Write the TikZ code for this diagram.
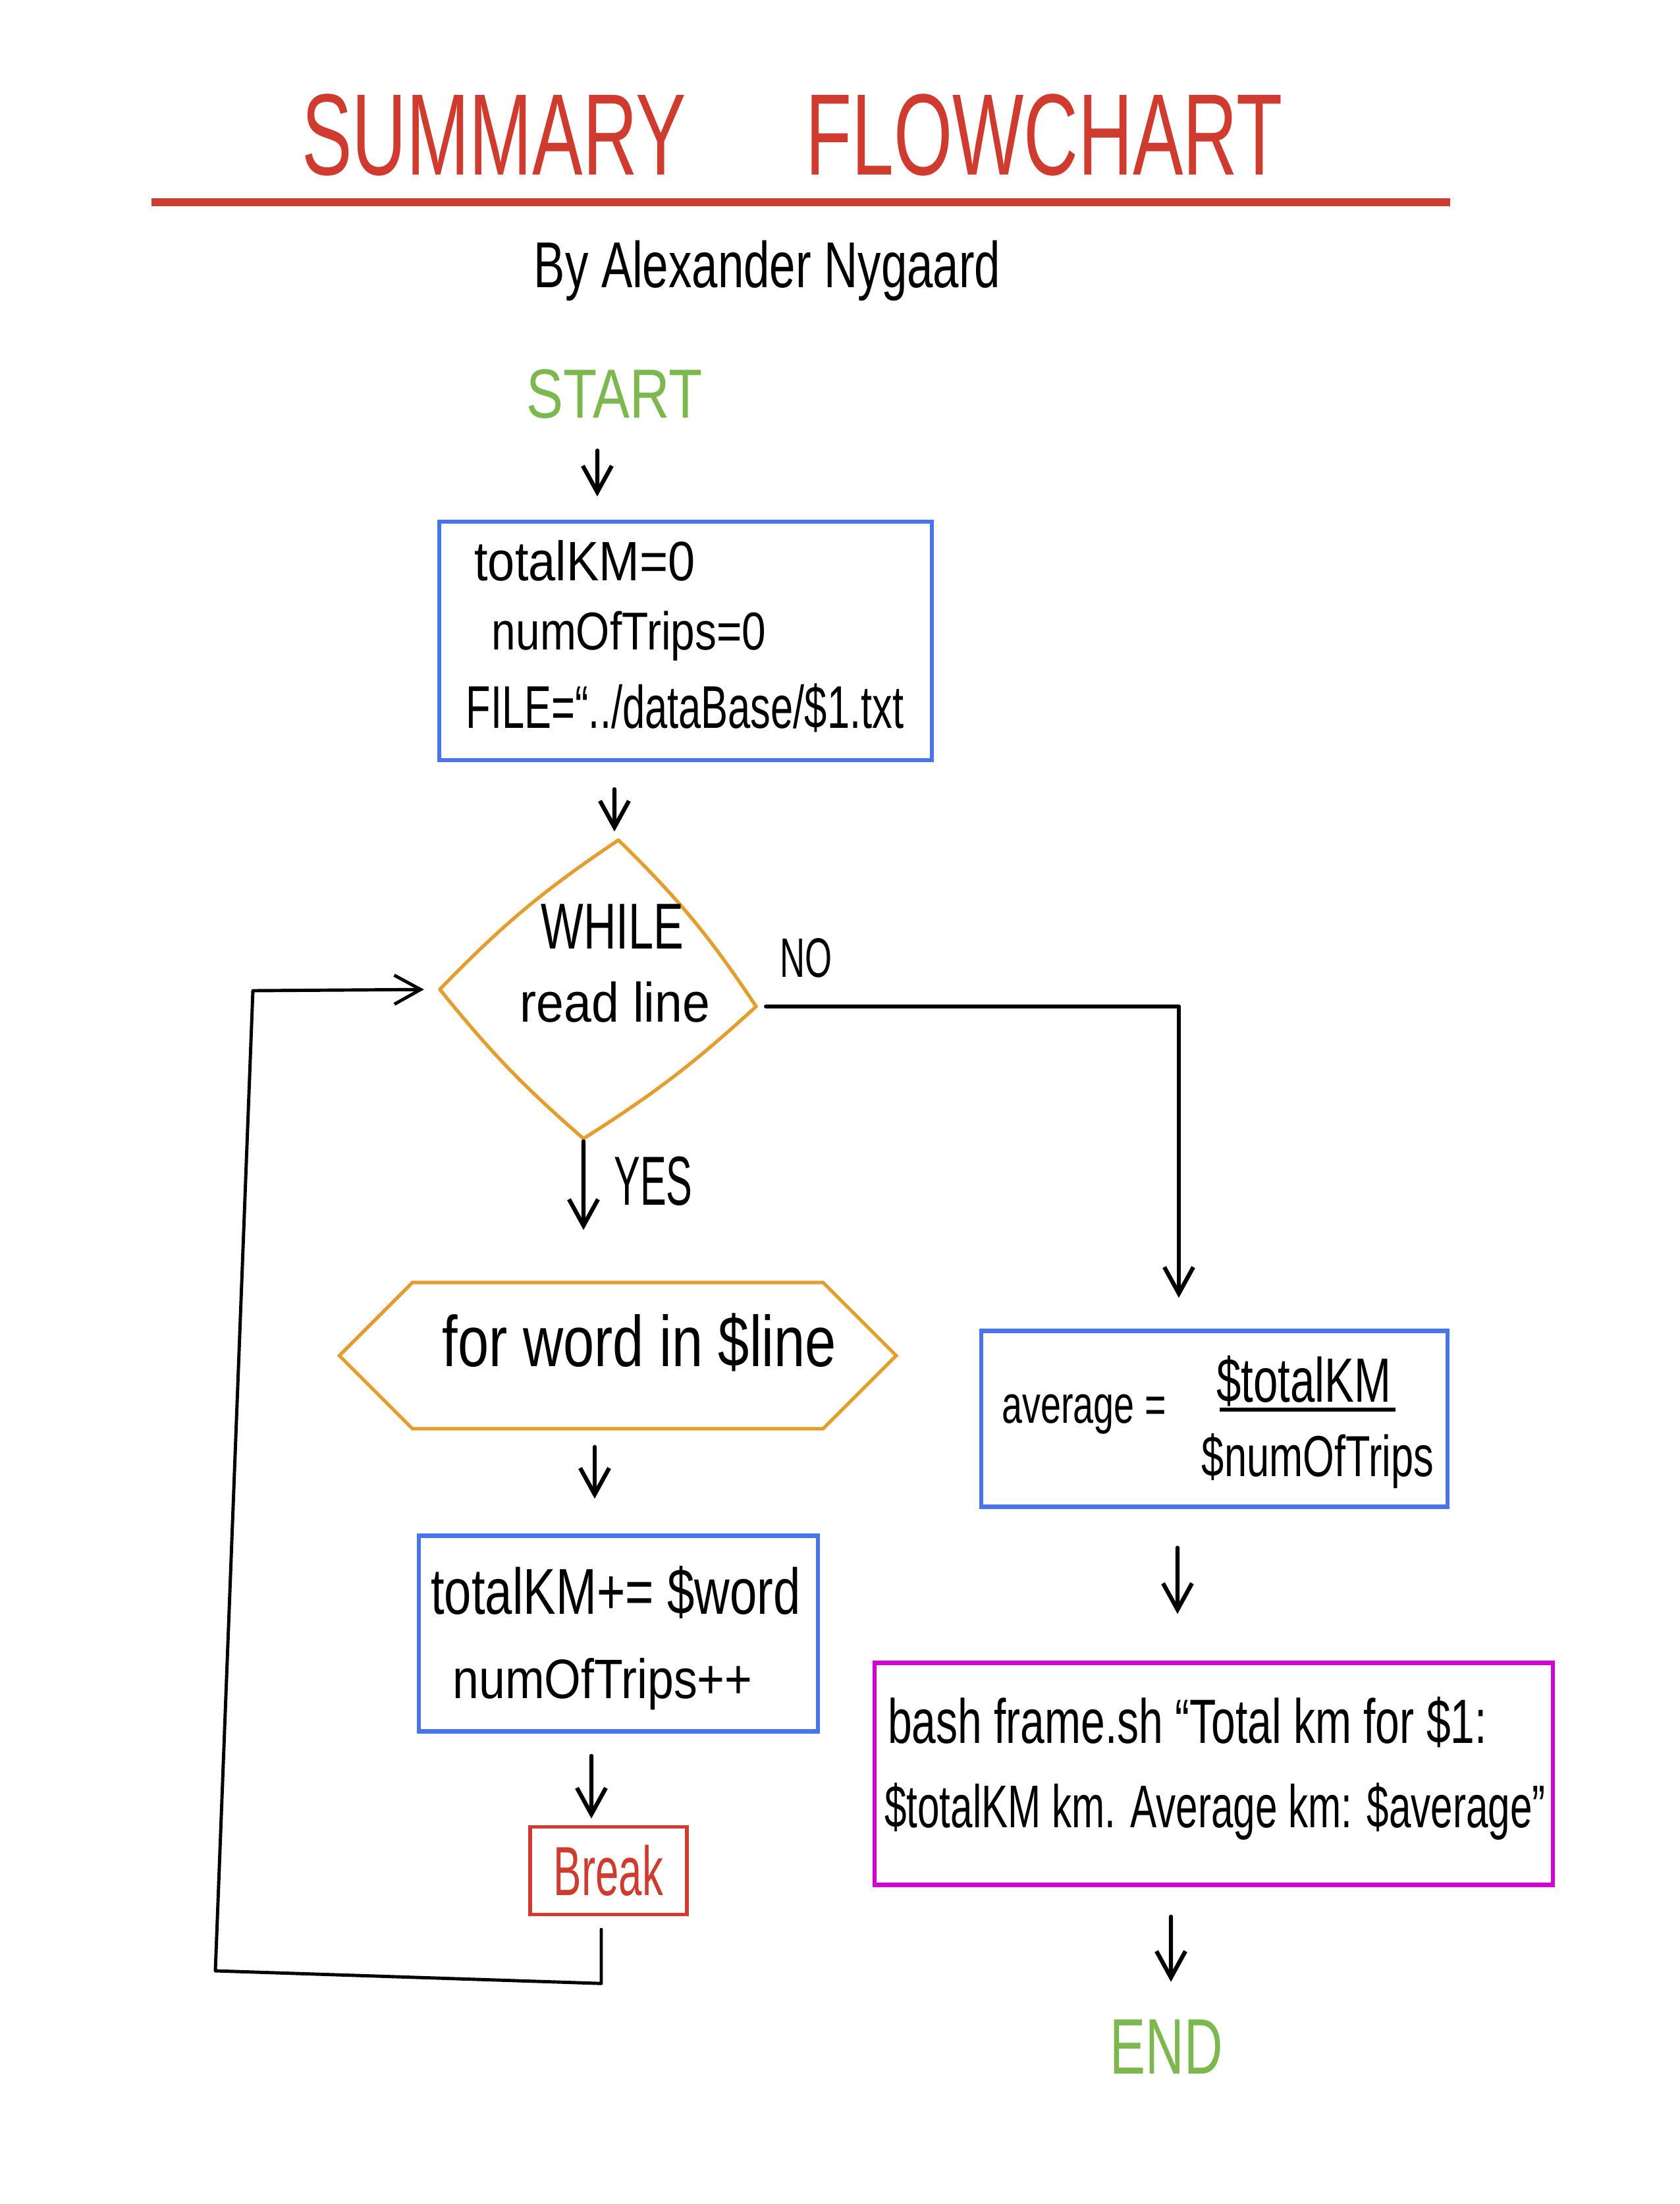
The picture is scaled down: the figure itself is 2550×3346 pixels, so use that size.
\documentclass[tikz,border=0pt]{standalone}
\usepackage{fontspec}
\setmainfont{Liberation Sans}
\usetikzlibrary{arrows.meta,shapes.geometric,shapes.symbols}
\definecolor{tred}{RGB}{207,59,46}
\definecolor{tgreen}{RGB}{124,184,78}
\definecolor{tblue}{RGB}{74,116,238}
\definecolor{torange}{RGB}{227,158,47}
\definecolor{tmag}{RGB}{213,0,213}
\newcommand{\hw}[2]{\resizebox{#1}{\height}{#2}}
\newcommand{\fs}[1]{\fontsize{#1}{#1}\selectfont}
\begin{document}
\begin{tikzpicture}[x=0.01cm,y=-0.01cm,
  txt/.style={inner sep=0pt,outer sep=0pt,anchor=base},
  bluebox/.style={draw=tblue,line width=1.8pt,rectangle,inner sep=0pt},
  harr/.style={line width=1.8pt,-{Straight Barb[length=0.4cm,width=0.44cm]},line cap=round,line join=round}]
\useasboundingbox (0,0) rectangle (2550,3346);
% title
\node[txt,text=tred,font=\fs{50}] (title) at (1203,266) {\hw{14.89cm}{SUMMARY\ \hspace{1.3em}FLOWCHART}};
\draw[tred,line width=3.4pt] (230,307) -- (2202,307);
\node[txt,font=\fs{28}] (by) at (1165,437) {\hw{7.08cm}{By Alexander Nygaard}};
% start
\node[txt,text=tgreen,font=\fs{30}] (start) at (933,634) {\hw{2.67cm}{START}};
% box 1
\node[bluebox,minimum width=7.47cm,minimum height=3.62cm] (box1) at (1041,973) {};
\node[txt,font=\fs{24}] (t1) at (888,881) {\hw{3.35cm}{totalKM=0}};
\node[txt,font=\fs{23}] (t2) at (955,986) {\hw{4.16cm}{numOfTrips=0}};
\node[txt,font=\fs{26}] (t3) at (1040,1105) {\hw{6.64cm}{FILE=``../dataBase/\$1.txt}};
% decision
\node[diamond,minimum width=4.8cm,minimum height=4.53cm,inner sep=0pt,outer sep=0pt] (while) at (908,1502) {};
\draw[torange,line width=1.5pt,line join=round]
  ([xshift=0.31cm]while.north) to[bend left=6] ([yshift=-0.26cm]while.east)
  to[bend left=5] ([xshift=-0.22cm]while.south)
  to[bend left=5] (while.west)
  to[bend left=6] cycle;
\node[txt,font=\fs{28}] (w1) at (930,1440) {\hw{2.17cm}{WHILE}};
\node[txt,font=\fs{24}] (w2) at (934,1551) {\hw{2.88cm}{read line}};
\node[txt,font=\fs{24}] (no) at (1224,1483) {\hw{0.79cm}{NO}};
\node[txt,font=\fs{30}] (yes) at (992,1829) {\hw{1.19cm}{YES}};
% for loop
\node[draw=torange,line width=1.5pt,signal,signal to=east and west,signal pointer angle=90,minimum width=8.45cm,minimum height=2.22cm,inner sep=0pt] (forw) at (938,2058) {};
\node[txt,font=\fs{31}] (fw) at (971,2074) {\hw{5.98cm}{for word in \$line}};
% box 2
\node[bluebox,minimum width=6.06cm,minimum height=2.97cm] (box2) at (939,2480) {};
\node[txt,font=\fs{28}] (b1) at (935,2450) {\hw{5.61cm}{totalKM+= \$word}};
\node[txt,font=\fs{24}] (b2) at (915,2578) {\hw{4.55cm}{numOfTrips++}};
% break
\node[draw=tred,line width=1.5pt,minimum width=2.38cm,minimum height=1.33cm,inner sep=0pt,text=tred,font=\fs{30}] (brk) at (924,2840) {\hw{1.66cm}{Break}};
% average
\node[bluebox,minimum width=7.08cm,minimum height=2.67cm] (avg) at (1844,2154) {};
\node[txt,font=\fs{23}] (av1) at (1646,2160) {\hw{2.49cm}{average =}};
\node[txt,font=\fs{27}] (av2) at (1980,2128) {\hw{2.65cm}{\$totalKM}};
\draw[line width=1.8pt] (1852,2140) -- (2119,2140);
\node[txt,font=\fs{25}] (av3) at (2001,2241) {\hw{3.52cm}{\$numOfTrips}};
% output
\node[draw=tmag,line width=1.8pt,minimum width=10.29cm,minimum height=3.37cm,inner sep=0pt] (bash) at (1843,2693) {};
\node[txt,font=\fs{27}] (m1) at (1803,2646) {\hw{9.09cm}{bash frame.sh ``Total km for \$1:}};
\node[txt,font=\fs{26}] (m2) at (1845,2774) {\hw{10.03cm}{\$totalKM km. Average km: \$average''}};
% end
\node[txt,text=tgreen,font=\fs{34}] (endn) at (1771,3148) {\hw{1.71cm}{END}};
% connectors
\draw[harr,shorten <=0.49cm,shorten >=0.35cm] ([xshift=-0.26cm]start.south) -- ([xshift=-1.34cm]box1.north);
\draw[harr,shorten <=0.41cm,shorten >=0.13cm] ([xshift=-1.08cm]box1.south) -- ([xshift=0.25cm]while.north);
\draw[harr,shorten <=0.04cm,shorten >=0.77cm] ([xshift=-0.22cm]while.south) -- ([xshift=-0.52cm]forw.north);
\draw[harr,shorten <=0.25cm,shorten >=0.53cm] ([xshift=-0.35cm]forw.south) -- ([xshift=-0.36cm]box2.north);
\draw[harr,shorten <=0.34cm,shorten >=0.10cm] ([xshift=-0.41cm]box2.south) -- ([xshift=-0.26cm]brk.north);
\draw[harr,shorten <=0.15cm,shorten >=0.47cm] ([yshift=-0.26cm]while.east) -| ([xshift=-0.54cm]avg.north);
\draw[harr,shorten <=0.59cm,shorten >=0.71cm] ([xshift=-0.56cm]avg.south) -- ([xshift=-0.55cm]bash.north);
\draw[harr,shorten <=0.45cm,shorten >=0.57cm] ([xshift=-0.65cm]bash.south) -- ([xshift=0.07cm]endn.north);
\draw[harr,line width=1.4pt,shorten >=0.24cm] ([xshift=-0.11cm,yshift=-0.2cm]brk.south) -- ++(0,82) -- (327,2992) -- (384,1504) -- (while.west);
\end{tikzpicture}
\end{document}
